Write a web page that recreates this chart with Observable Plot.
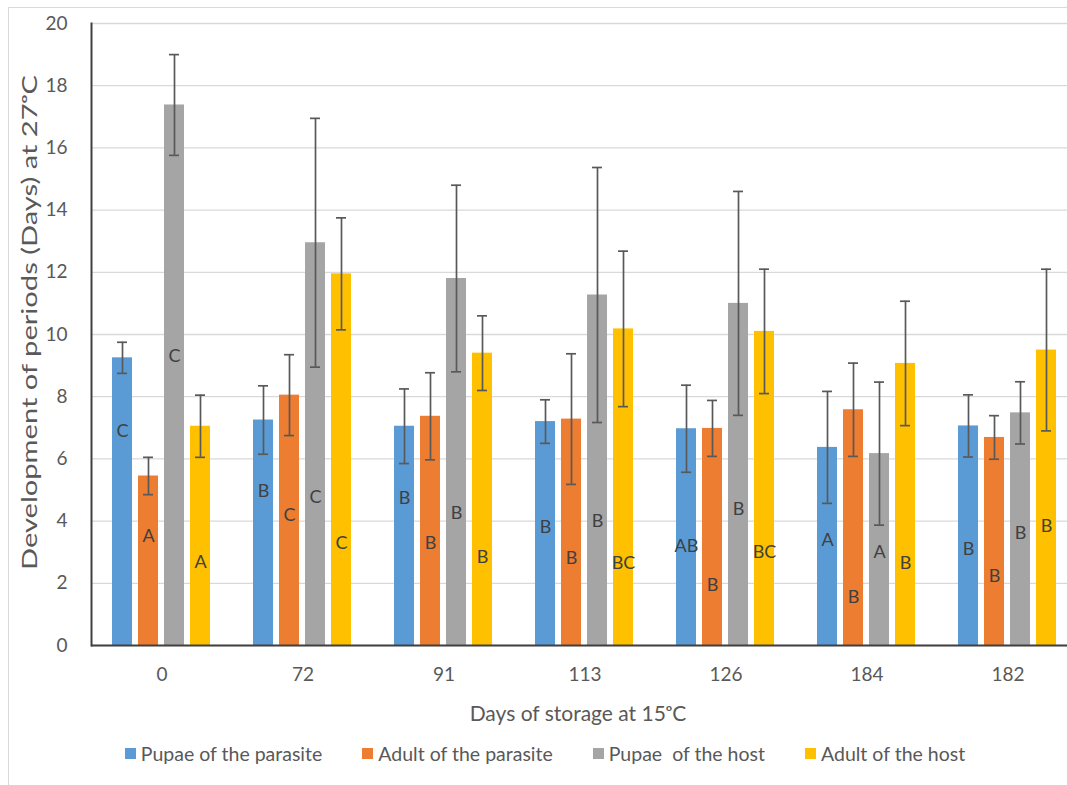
<!DOCTYPE html>
<html>
<head>
<meta charset="utf-8">
<script src="https://cdn.jsdelivr.net/npm/d3@7"></script>
<script src="https://cdn.jsdelivr.net/npm/@observablehq/plot@0.6"></script>
<style>
  html, body { margin: 0; padding: 0; background: #fff; }
  #wrap { position: relative; width: 1067px; height: 785px; overflow: hidden; font-family: Lato, "Open Sans", sans-serif; color: #595959; }
  #border { position: absolute; left: 8px; top: 7px; width: 1200px; height: 900px; border: 1px solid #d9d9d9; box-sizing: border-box; }
  #chart { position: absolute; left: 0; top: 0; }
  #xtitle { position: absolute; left: 89px; width: 978px; top: 700px; text-align: center; font-size: 21px; }
  #legend { position: absolute; left: 0; width: 1090px; top: 742px; display: flex; justify-content: center; gap: 40px; font-size: 19.5px; }
  .item { display: flex; align-items: center; gap: 5px; }
  .sw { width: 11px; height: 11px; display: inline-block; }
</style>
</head>
<body>
<div id="wrap">
  <div id="border"></div>
  <div id="chart"></div>
  <div id="xtitle">Days of storage at 15ᵒC</div>
  <div id="legend"></div>
</div>
<script>
// Categories: days of storage at 15 °C
const categories = ["0", "72", "91", "113", "126", "184", "182"];
const series = ["Pupae of the parasite", "Adult of the parasite", "Pupae  of the host", "Adult of the host"];
const colors = ["#5B9BD5", "#ED7D31", "#A5A5A5", "#FFC000"];

// Mean development periods (days) at 27 °C
const pupaeParasite = [9.25, 7.25, 7.05, 7.2, 6.97, 6.37, 7.06];
const adultParasite = [5.45, 8.05, 7.37, 7.28, 6.98, 7.58, 6.69];
const pupaeHost     = [17.38, 12.95, 11.8, 11.27, 11.0, 6.17, 7.48];
const adultHost     = [7.05, 11.95, 9.4, 10.18, 10.1, 9.07, 9.5];

// Error bar half-widths
const pupaeParasiteErr = [0.5, 1.1, 1.2, 0.7, 1.4, 1.8, 1.0];
const adultParasiteErr = [0.6, 1.3, 1.4, 2.1, 0.9, 1.5, 0.7];
const pupaeHostErr     = [1.62, 4.0, 3.0, 4.1, 3.6, 2.3, 1.0];
const adultHostErr     = [1.0, 1.8, 1.2, 2.5, 2.0, 2.0, 2.6];

// Significance letters and the value at which each is written
const pupaeParasiteLetters = ["C", "B", "B", "B", "AB", "A", "B"];
const adultParasiteLetters = ["A", "C", "B", "B", "B", "B", "B"];
const pupaeHostLetters     = ["C", "C", "B", "B", "B", "A", "B"];
const adultHostLetters     = ["A", "C", "B", "BC", "BC", "B", "B"];
const pupaeParasiteLetterY = [6.9, 4.95, 4.72, 3.8, 3.18, 3.4, 3.1];
const adultParasiteLetterY = [3.5, 4.2, 3.3, 2.8, 1.93, 1.55, 2.23];
const pupaeHostLetterY     = [9.3, 4.77, 4.25, 4.0, 4.37, 3.0, 3.6];
const adultHostLetterY     = [2.67, 3.3, 2.85, 2.66, 3.0, 2.63, 3.84];

const yTicks = [0, 2, 4, 6, 8, 10, 12, 14, 16, 18, 20];
const yTitle = "Development of periods (Days) at 27ᵒC";

const values = [pupaeParasite, adultParasite, pupaeHost, adultHost];
const errs = [pupaeParasiteErr, adultParasiteErr, pupaeHostErr, adultHostErr];
const letters = [pupaeParasiteLetters, adultParasiteLetters, pupaeHostLetters, adultHostLetters];
const letterY = [pupaeParasiteLetterY, adultParasiteLetterY, pupaeHostLetterY, adultHostLetterY];

const rows = [];
categories.forEach((c, i) => {
  series.forEach((s, j) => {
    rows.push({
      cat: c, series: s, value: values[j][i],
      lo: values[j][i] - errs[j][i], hi: values[j][i] + errs[j][i],
      letter: letters[j][i], ly: letterY[j][i]
    });
  });
});

const chart = Plot.plot({
  width: 1067,
  height: 690,
  marginLeft: 89,
  marginRight: -13,
  marginTop: 23,
  marginBottom: 45,
  style: { fontFamily: "Lato, 'Open Sans', sans-serif", color: "#595959", background: "transparent", overflow: "hidden" },
  fx: { domain: categories, padding: 0, label: null },
  x: { domain: series, paddingInner: 0.22, paddingOuter: 0.8, axis: null },
  y: { domain: [0, 20] },
  color: { domain: series, range: colors },
  marks: [
    Plot.gridY(yTicks, { stroke: "#d9d9d9", strokeOpacity: 1, strokeWidth: 1.3 }),
    Plot.axisY({ ticks: yTicks, tickSize: 0, tickPadding: 24, fontSize: 19, label: null, fill: "#595959" }),
    Plot.axisY({ ticks: [], tickSize: 0, fontSize: 21, label: yTitle, labelAnchor: "center", labelOffset: 69, labelArrow: "none", fill: "#595959" }),
    Plot.axisFx({ anchor: "bottom", tickSize: 0, tickPadding: 22, fontSize: 19, label: null, fill: "#595959" }),
    Plot.barY(rows, { fx: "cat", x: "series", y: "value", fill: "series" }),
    Plot.ruleX(rows, { fx: "cat", x: "series", y1: "lo", y2: "hi", stroke: "#595959", strokeWidth: 1.7 }),
    Plot.tickY(rows, { fx: "cat", x: "series", y: "hi", insetLeft: 5, insetRight: 5, stroke: "#595959", strokeWidth: 1.7 }),
    Plot.tickY(rows, { fx: "cat", x: "series", y: "lo", insetLeft: 5, insetRight: 5, stroke: "#595959", strokeWidth: 1.7 }),
    Plot.text(rows, { fx: "cat", x: "series", y: "ly", text: "letter", fontSize: 18, fill: "#404040" }),
    Plot.ruleY([0], { stroke: "#404040", strokeWidth: 2 }),
    Plot.frame({ anchor: "left", facetAnchor: "left", stroke: "#404040", strokeWidth: 2 })
  ]
});
document.getElementById("chart").appendChild(chart);

// Stretch the (Excel-style, tall) y-axis title along its length
d3.select(chart).selectAll("text").filter(function () { return this.textContent === yTitle; })
  .attr("textLength", 495).attr("lengthAdjust", "spacingAndGlyphs").attr("dx", 12);

const legend = d3.select("#legend");
series.forEach((s, j) => {
  const it = legend.append("div").attr("class", "item");
  it.append("span").attr("class", "sw").style("background", colors[j]);
  it.append("span").style("white-space", "pre").text(s);
});
</script>
</body>
</html>
